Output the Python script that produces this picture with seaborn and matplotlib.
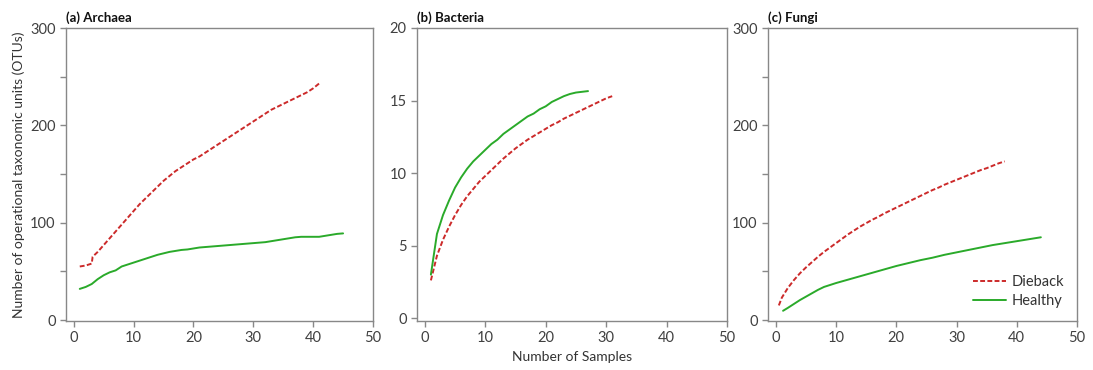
import seaborn as sns
from matplotlib import pyplot as plt
from matplotlib.ticker import MultipleLocator
import pandas as pd

# (a) Archaea
arch_dieback_x = [1, 2, 3, 3.15] + list(range(4, 42))
arch_dieback_y = [55, 56, 58, 65, 70, 77, 84, 91, 98, 105, 112, 119, 125, 131, 137, 143, 148, 153, 157,
                  161, 165, 168, 172, 176, 180, 184, 188, 192, 196, 200, 204, 208, 212, 216, 219,
                  222, 225, 228, 231, 234, 238, 243]
arch_healthy_x = list(range(1, 46))
arch_healthy_y = [32, 34, 37, 42, 46, 49, 51, 55, 57, 59, 61, 63, 65, 67, 68.5, 70, 71, 72, 72.5,
                  73.5, 74.5, 75, 75.5, 76, 76.5, 77, 77.5, 78, 78.5, 79, 79.5, 80, 81, 82, 83,
                  84, 85, 85.5, 85.5, 85.5, 85.5, 86.5, 87.5, 88.5, 89]

# (b) Bacteria
bact_dieback_x = list(range(1, 32))
bact_dieback_y = [2.6, 4.3, 5.4, 6.3, 7.1, 7.8, 8.4, 8.9, 9.4, 9.8, 10.2, 10.6, 11.0, 11.35, 11.7,
                  12.0, 12.3, 12.55, 12.8, 13.05, 13.3, 13.5, 13.75, 13.95, 14.15, 14.35, 14.55,
                  14.75, 14.95, 15.15, 15.3]
bact_healthy_x = list(range(1, 28))
bact_healthy_y = [3.0, 5.8, 7.1, 8.1, 9.0, 9.7, 10.3, 10.8, 11.2, 11.6, 12.0, 12.3, 12.7, 13.0,
                  13.3, 13.6, 13.9, 14.1, 14.4, 14.6, 14.9, 15.1, 15.3, 15.45, 15.55, 15.6, 15.65]

# (c) Fungi
fung_dieback_x = [0.5] + list(range(1, 39))
fung_dieback_y = [15, 23, 33, 41, 48, 54, 59.5, 65, 70, 74.5, 79, 83.5, 88, 92, 96, 99.5, 103, 106,
                  109.5, 112.5, 115.5, 118.5, 121.5, 124.5, 127.5, 130.5, 133.5, 136, 139, 141.5,
                  144, 146.5, 149, 151.5, 154, 156, 158.5, 161, 163]
fung_healthy_x = [1.2, 2, 3, 4, 5, 6, 7, 8, 9, 10, 12, 14, 16, 18, 20, 22, 24, 26, 28, 30, 32, 34,
                  36, 38, 40, 42, 44]
fung_healthy_y = [9.5, 12.5, 16.5, 20.5, 24, 27.5, 31, 34, 36, 38, 41.5, 45, 48.5, 52, 55.5, 58.5,
                  61.5, 64, 67, 69.5, 72, 74.5, 77, 79, 81, 83, 85]

panels = [
    ('(a) Archaea', arch_dieback_x, arch_dieback_y, arch_healthy_x, arch_healthy_y),
    ('(b) Bacteria', bact_dieback_x, bact_dieback_y, bact_healthy_x, bact_healthy_y),
    ('(c) Fungi', fung_dieback_x, fung_dieback_y, fung_healthy_x, fung_healthy_y),
]

sns.set_style('white')
plt.rcParams['font.family'] = ['Lato', 'DejaVu Sans']

fig = plt.figure(figsize=(10.93, 3.70), dpi=100)
lefts = [66, 417, 768]
widths = [307, 310, 309]
axes = [fig.add_axes([l / 1093, 49 / 370, w / 1093, 293 / 370]) for l, w in zip(lefts, widths)]

red = '#cc2a2a'
green = '#2aaa2a'
gray = '#888888'

for i, (ax, (title, dx, dy, hx, hy)) in enumerate(zip(axes, panels)):
    d = pd.DataFrame({
        'x': list(dx) + list(hx),
        'y': list(dy) + list(hy),
        'group': ['Dieback'] * len(dx) + ['Healthy'] * len(hx),
    })
    sns.lineplot(data=d, x='x', y='y', hue='group', style='group', estimator=None,
                 palette={'Dieback': red, 'Healthy': green},
                 dashes={'Dieback': (2.5, 1.2), 'Healthy': ''},
                 linewidth=1.4, ax=ax, legend=(i == 2))
    ax.set_xlim(-1.3, 50)
    ax.xaxis.set_major_locator(MultipleLocator(10))
    if i == 1:
        ax.set_ylim(-0.2, 20)
        ax.yaxis.set_major_locator(MultipleLocator(5))
    else:
        ax.set_ylim(-1, 300)
        ax.yaxis.set_major_locator(MultipleLocator(100))
        ax.yaxis.set_minor_locator(MultipleLocator(50))
    for s in ax.spines.values():
        s.set_color(gray)
        s.set_linewidth(1.0)
    ax.tick_params(which='both', direction='out', length=4, width=1, color=gray,
                   labelsize=10.5, labelcolor='#404040', left=True, bottom=True)
    ax.set_xlabel('')
    ax.set_ylabel('')
    ax.text(0.0, 1.015, title, transform=ax.transAxes, fontsize=9.5, fontweight='bold',
            ha='left', va='bottom', color='#111111')

axes[0].set_ylabel('Number of operational taxonomic units (OTUs)', fontsize=10, color='#333333')
axes[1].set_xlabel('Number of Samples', fontsize=10, color='#333333')
leg = axes[2].legend(loc='lower right', frameon=False, fontsize=10.5, handlelength=2.2,
                     handletextpad=0.4, labelspacing=0.3)
for t in leg.get_texts():
    t.set_color('#333333')

fig.savefig('out.png', dpi=100)
